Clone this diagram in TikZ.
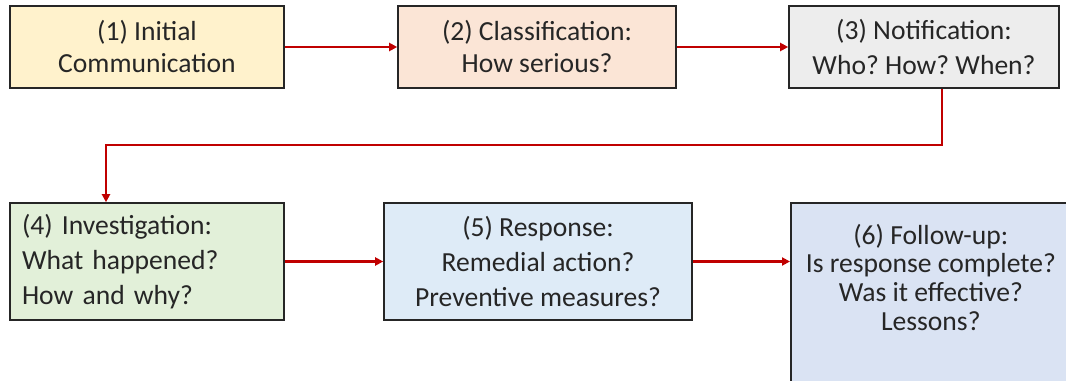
\documentclass[tikz,border=0pt]{standalone}
\usepackage{fontspec}
\setmainfont{Carlito}
\usepackage{tikz}
\usepackage{xcolor}
\usetikzlibrary{arrows.meta, positioning}
\definecolor{StepYellow}{HTML}{FFF2CC}
\definecolor{StepOrange}{HTML}{FBE5D6}
\definecolor{StepGray}{HTML}{EDEDED}
\definecolor{StepGreen}{HTML}{E2F0D9}
\definecolor{StepBlue}{HTML}{DEEBF7}
\definecolor{StepLavender}{HTML}{DAE3F3}
\definecolor{FlowRed}{HTML}{C00000}
\frenchspacing

\begin{document}
\begin{tikzpicture}[node distance=290pt, on grid, stepbox/.style={rectangle, draw=black!85, line width=1.2pt, align=center, text=black!85, minimum height=61.5pt, font=\fontsize{20.7}{24}\selectfont}, flow/.style={FlowRed, line width=1.9pt, -{Triangle[length=6pt, width=6pt]}}]

        \path[use as bounding box, clip] (0,0) rectangle (799.5pt,-285.75pt);

        \node[stepbox, fill=StepYellow, minimum width=205.5pt] (C1) at (110.25pt,-35.25pt) {(1) Initial\\Communication};
        \node[stepbox, fill=StepOrange, minimum width=208.5pt, right=292.5pt of C1] (C2) {(2) Classification:\\How serious?};
        \node[stepbox, fill=StepGray, minimum width=202.5pt, right=290.25pt of C2, font=\fontsize{20.7}{26.5}\selectfont] (N3) {(3) Notification:\\Who? How? When?};
        \node[stepbox, fill=StepGreen, minimum height=87.75pt, text width=187.5pt, inner xsep=9pt, align=left, below=160.875pt of C1, font=\fontsize{20.7}{26}\selectfont] (I4) {(4) Investigation:\\What happened?\\How and why?};
        \node[stepbox, fill=StepBlue, minimum width=231pt, minimum height=87.75pt, right=293.25pt of I4, font=\fontsize{20.7}{26}\selectfont] (R5) {(5) Response:\\Remedial action?\\Preventive measures?};
        \node[stepbox, fill=StepLavender, minimum width=210pt, anchor=north west, inner ysep=16pt, text depth=110pt, font=\fontsize{20.7}{21.5}\selectfont] (F6) at (592.5pt,-151.5pt) {(6) Follow-up:\\Is response complete?\\Was it effective?\\Lessons?};
        \path[flow]
        (C1) edge (C2)
        (C2) edge (N3)
        (I4) edge (R5)
        (R5.east) edge (R5.east -| F6.west)
        ;
        \draw[flow] ([xshift=13.5pt]N3.south) -- ++(0,-42pt) -| ([xshift=-30.75pt]I4.north);

    \end{tikzpicture}
\end{document}
